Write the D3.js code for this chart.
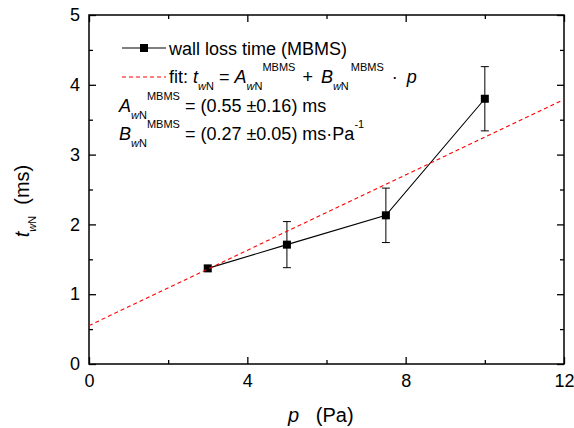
<!DOCTYPE html>
<html>
<head>
<meta charset="utf-8">
<script src="https://cdn.jsdelivr.net/npm/d3@7"></script>
<style>
  html, body { margin: 0; padding: 0; background: #fff; }
  svg { display: block; font-family: Arial, "Liberation Sans", Helvetica, sans-serif; }
</style>
</head>
<body>
<svg id="chart" width="574" height="428"></svg>
<script>
// Wall loss time measured by MBMS versus pressure
const pressure = [3, 5, 7.5, 10];            // Pa
const wallLossTime = [1.37, 1.71, 2.13, 3.80]; // ms
const wallLossErr = [0, 0.33, 0.39, 0.46];     // ms

// Linear fit t = A + B * p
const fitA = 0.55;
const fitB = 0.27;
const fitRange = [0, 12];

const xMajorTicks = [0, 4, 8, 12];
const xMinorTicks = [2, 6, 10];
const yMajorTicks = [0, 1, 2, 3, 4, 5];
const yMinorTicks = [0.5, 1.5, 2.5, 3.5, 4.5];

const svg = d3.select("#chart");
const plotLeft = 89, plotRight = 564, plotTop = 15, plotBottom = 364;

const x = d3.scaleLinear().domain([0, 12]).range([plotLeft, plotRight]);
const y = d3.scaleLinear().domain([0, 5]).range([plotBottom, plotTop]);

const tickFont = 18;

function styleAxis(g) {
  g.select(".domain").remove();
  g.selectAll(".tick line").attr("stroke", "#000").attr("stroke-width", 1.3);
  g.selectAll("text").attr("font-size", tickFont).attr("fill", "#000")
    .attr("font-family", "Arial, 'Liberation Sans', sans-serif");
}

// Bottom axis (labelled) and minor ticks
svg.append("g").attr("transform", `translate(0,${plotBottom})`)
  .call(d3.axisBottom(x).tickValues(xMajorTicks).tickSize(-7).tickPadding(10).tickFormat(d3.format("d")))
  .call(styleAxis);
svg.append("g").attr("transform", `translate(0,${plotBottom})`)
  .call(d3.axisBottom(x).tickValues(xMinorTicks).tickSize(-4).tickFormat(""))
  .call(styleAxis);
// Top axis (ticks only)
svg.append("g").attr("transform", `translate(0,${plotTop})`)
  .call(d3.axisTop(x).tickValues(xMajorTicks).tickSize(-7).tickFormat(""))
  .call(styleAxis);
svg.append("g").attr("transform", `translate(0,${plotTop})`)
  .call(d3.axisTop(x).tickValues(xMinorTicks).tickSize(-4).tickFormat(""))
  .call(styleAxis);
// Left axis (labelled)
svg.append("g").attr("transform", `translate(${plotLeft},0)`)
  .call(d3.axisLeft(y).tickValues(yMajorTicks).tickSize(-7).tickPadding(9).tickFormat(d3.format("d")))
  .call(styleAxis);
svg.append("g").attr("transform", `translate(${plotLeft},0)`)
  .call(d3.axisLeft(y).tickValues(yMinorTicks).tickSize(-4).tickFormat(""))
  .call(styleAxis);
// Right axis (ticks only)
svg.append("g").attr("transform", `translate(${plotRight},0)`)
  .call(d3.axisRight(y).tickValues(yMajorTicks).tickSize(-7).tickFormat(""))
  .call(styleAxis);
svg.append("g").attr("transform", `translate(${plotRight},0)`)
  .call(d3.axisRight(y).tickValues(yMinorTicks).tickSize(-4).tickFormat(""))
  .call(styleAxis);

// Frame
svg.append("rect")
  .attr("x", plotLeft).attr("y", plotTop)
  .attr("width", plotRight - plotLeft).attr("height", plotBottom - plotTop)
  .attr("fill", "none").attr("stroke", "#000").attr("stroke-width", 1.5);

// Data
const data = pressure.map((p, i) => ({ p, t: wallLossTime[i], e: wallLossErr[i] }));

// Error bars
const eb = svg.append("g").attr("stroke", "#000").attr("stroke-width", 1);
data.filter(d => d.e > 0).forEach(d => {
  const cx = x(d.p);
  eb.append("line").attr("x1", cx).attr("x2", cx).attr("y1", y(d.t - d.e)).attr("y2", y(d.t + d.e));
  eb.append("line").attr("x1", cx - 4).attr("x2", cx + 4).attr("y1", y(d.t + d.e)).attr("y2", y(d.t + d.e));
  eb.append("line").attr("x1", cx - 4).attr("x2", cx + 4).attr("y1", y(d.t - d.e)).attr("y2", y(d.t - d.e));
});

// Connecting line
svg.append("path")
  .datum(data)
  .attr("d", d3.line().x(d => x(d.p)).y(d => y(d.t)))
  .attr("fill", "none").attr("stroke", "#000").attr("stroke-width", 1.1);

// Square markers
const ms = 8;
svg.append("g").selectAll("rect").data(data).join("rect")
  .attr("x", d => x(d.p) - ms / 2).attr("y", d => y(d.t) - ms / 2)
  .attr("width", ms).attr("height", ms).attr("fill", "#000");

// Fit line, drawn over the data
const fitLine = d3.line().x(p => x(p)).y(p => y(fitA + fitB * p));
svg.append("path")
  .datum(fitRange)
  .attr("d", fitLine)
  .attr("fill", "none").attr("stroke", "#ff0000").attr("stroke-width", 1.1)
  .attr("stroke-dasharray", "4,3");

// Rich text helper: parts with optional sub/sup, italic and extra spacing
function richText(parent, px, py, parts, attrs, size) {
  const base = size || 18;
  const t = parent.append("text").attr("x", px).attr("y", py)
    .attr("font-size", base).attr("fill", "#000");
  if (attrs) Object.entries(attrs).forEach(([k, v]) => t.attr(k, v));
  const shift = { sub: 6.5, sup: -12, base: 0 };
  let cur = 0;
  parts.forEach(part => {
    const pos = part.pos || "base";
    const target = shift[pos];
    const ts = t.append("tspan")
      .attr("dy", target - cur)
      .attr("font-size", pos === "base" ? base : 11)
      .style("white-space", "pre")
      .text(part.s);
    if (part.dx) ts.attr("dx", part.dx);
    if (part.it) ts.attr("font-style", "italic");
    cur = target;
  });
  return t;
}

// Legend
const lg = svg.append("g");
const legX0 = 122, legX1 = 166;
const legY1 = 48, legY2 = 77;
lg.append("line").attr("x1", legX0).attr("x2", legX1).attr("y1", legY1).attr("y2", legY1)
  .attr("stroke", "#000").attr("stroke-width", 1.1);
lg.append("rect").attr("x", (legX0 + legX1) / 2 - ms / 2).attr("y", legY1 - ms / 2)
  .attr("width", ms).attr("height", ms).attr("fill", "#000");
richText(lg, 169, 55, [{ s: "wall loss time (MBMS)" }]);

lg.append("line").attr("x1", legX0).attr("x2", legX1).attr("y1", legY2).attr("y2", legY2)
  .attr("stroke", "#ff0000").attr("stroke-width", 1.1).attr("stroke-dasharray", "4,3");
richText(lg, 169, 83, [
  { s: "fit: " }, { s: "t", it: true }, { s: "w", pos: "sub", it: true }, { s: "N", pos: "sub" },
  { s: " = " }, { s: "A", it: true }, { s: "w", pos: "sub", it: true }, { s: "N", pos: "sub" },
  { s: "MBMS", pos: "sup" }, { s: " + ", dx: 2 }, { s: "B", it: true, dx: 3 },
  { s: "w", pos: "sub", it: true }, { s: "N", pos: "sub" }, { s: "MBMS", pos: "sup", dx: 2 },
  { s: " \u00B7 ", dx: 3 }, { s: "p", it: true, dx: 4 }
]);

richText(lg, 119, 112, [
  { s: "A", it: true }, { s: "w", pos: "sub", it: true }, { s: "N", pos: "sub" },
  { s: "MBMS", pos: "sup" }, { s: " = (0.55 \u00B10.16) ms" }
]);
richText(lg, 119, 140, [
  { s: "B", it: true }, { s: "w", pos: "sub", it: true }, { s: "N", pos: "sub" },
  { s: "MBMS", pos: "sup" }, { s: " = (0.27 \u00B10.05) ms\u00B7Pa" }, { s: "-1", pos: "sup" }
]);

// Axis titles
richText(svg, 288, 422, [{ s: "p", it: true }, { s: "   (Pa)" }], null, 20);
const yt = svg.append("g").attr("transform", "translate(29,201) rotate(-90)");
richText(yt, 0, 0, [
  { s: "t", it: true }, { s: "w", pos: "sub", it: true }, { s: "N", pos: "sub" }, { s: "  (ms)" }
], { "text-anchor": "middle" }, 20);
</script>
</body>
</html>
